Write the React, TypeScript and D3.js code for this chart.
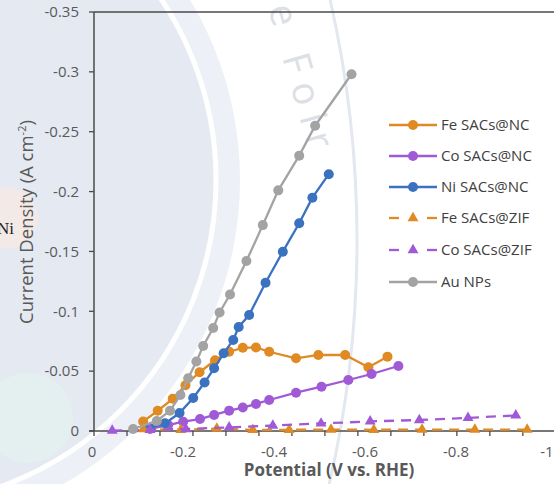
import React from 'react';
import * as d3 from 'd3';

const W = 554;
const H = 484;

// Potential (V vs. RHE) and current density (A cm^-2) for each catalyst
const feNcV = [-0.108, -0.14, -0.173, -0.201, -0.232, -0.266, -0.297, -0.327, -0.356, -0.385, -0.444, -0.493, -0.552, -0.603, -0.645];
const feNcJ = [-0.0079, -0.0169, -0.0269, -0.0382, -0.0491, -0.0591, -0.0662, -0.0695, -0.0698, -0.0662, -0.0607, -0.0635, -0.0635, -0.0532, -0.0621];

const coNcV = [-0.123, -0.163, -0.196, -0.233, -0.264, -0.297, -0.327, -0.356, -0.385, -0.444, -0.5, -0.559, -0.61, -0.669];
const coNcJ = [-0.0017, -0.005, -0.0078, -0.01, -0.0134, -0.017, -0.0196, -0.0226, -0.0259, -0.032, -0.037, -0.0426, -0.0476, -0.0543];

const niNcV = [-0.123, -0.156, -0.188, -0.218, -0.243, -0.264, -0.285, -0.306, -0.318, -0.341, -0.377, -0.415, -0.451, -0.48, -0.516];
const niNcJ = [-0.0025, -0.0064, -0.015, -0.0276, -0.0405, -0.0524, -0.0649, -0.076, -0.0869, -0.0969, -0.1239, -0.1498, -0.1735, -0.1949, -0.2145];

const feZifV = [-0.108, -0.191, -0.27, -0.349, -0.429, -0.521, -0.615, -0.721, -0.837, -0.952];
const feZifJ = [-0.0015, -0.001, -0.002, -0.001, -0.001, -0.0012, -0.001, -0.0012, -0.0012, -0.0012];

const coZifV = [-0.04, -0.123, -0.202, -0.297, -0.393, -0.499, -0.607, -0.715, -0.822, -0.927];
const coZifJ = [-0.0003, -0.001, -0.0017, -0.003, -0.0046, -0.0063, -0.008, -0.0092, -0.011, -0.013];

const auV = [-0.086, -0.138, -0.167, -0.19, -0.207, -0.225, -0.24, -0.262, -0.276, -0.299, -0.335, -0.371, -0.405, -0.451, -0.486, -0.566];
const auJ = [-0.0017, -0.0084, -0.017, -0.03, -0.044, -0.058, -0.071, -0.086, -0.099, -0.114, -0.142, -0.172, -0.201, -0.23, -0.255, -0.298];

const seriesNames = ['Fe SACs@NC', 'Co SACs@NC', 'Ni SACs@NC', 'Fe SACs@ZIF', 'Co SACs@ZIF', 'Au NPs'];
const seriesColors = ['#df8a22', '#a05ad6', '#3a72c0', '#df8a22', '#a05ad6', '#a3a3a3'];
const seriesDashed = [false, false, false, true, true, false];
const seriesV = [feNcV, coNcV, niNcV, feZifV, coZifV, auV];
const seriesJ = [feNcJ, coNcJ, niNcJ, feZifJ, coZifJ, auJ];

const xLabelTicks = [0, -0.2, -0.4, -0.6, -0.8, -1];
const xMarkTicks = d3.range(0, -1.0, -0.0725);
const yTicks = [0, -0.05, -0.1, -0.15, -0.2, -0.25, -0.3, -0.35];

const FONT = "'Open Sans', sans-serif";

export default function App() {
  const x = d3.scaleLinear().domain([0, -1]).range([94, 549]);
  const y = d3.scaleLinear().domain([0, -0.35]).range([431, 12]);
  const line = d3.line<[number, number]>().x(d => x(d[0])).y(d => y(d[1]));
  const tri = d3.symbol().type(d3.symbolTriangle).size(52)();

  const fmt = (v: number) => (v === 0 ? '0' : '-' + String(Math.abs(v)));

  const legendY = [125, 156, 187, 218, 250, 282];

  return (
    <svg width={W} height={H} style={{ position: 'fixed', left: 0, top: 0, background: '#fff' }}>
      {/* backdrop */}
      <rect x={0} y={0} width={W} height={H} fill="#ffffff" />
      <circle cx={-110} cy={180} r={350} fill="#edf0f6" />
      <circle cx={-110} cy={180} r={326} fill="#e5e9f2" stroke="#ffffff" strokeWidth={5} />
      <circle cx={-723} cy={240} r={1080} fill="none" stroke="#e3e8f0" strokeWidth={3} />
      <circle cx={8} cy={218} r={30} fill="#f6e9e2" opacity={0.8} />
      <circle cx={28} cy={418} r={45} fill="#e3f1ef" opacity={0.8} />
      <text x={-3} y={234} fontFamily="'Liberation Serif', serif" fontSize={17} fill="#222">Ni</text>
      <text
        transform="translate(268,8) rotate(74)"
        fontFamily={FONT}
        fontSize={38}
        letterSpacing={10}
        fill="#dcdfe5"
      >
        e Foir
      </text>

      {/* axes */}
      <line x1={94} x2={W} y1={12} y2={12} stroke="#4a4a4a" strokeWidth={1.5} />
      <line x1={94} x2={94} y1={12} y2={431} stroke="#4a4a4a" strokeWidth={1.5} />
      <line x1={89} x2={W} y1={431} y2={431} stroke="#4a4a4a" strokeWidth={1.5} />
      {yTicks.map(t => (
        <g key={'yt' + t}>
          <line x1={89} x2={94} y1={y(t)} y2={y(t)} stroke="#4a4a4a" strokeWidth={1.3} />
          <text x={79} y={y(t)} dy="0.35em" textAnchor="end" fontFamily={FONT} fontSize={15} fill="#595959">
            {fmt(t)}
          </text>
        </g>
      ))}
      {xMarkTicks.map(t => (
        <line key={'xm' + t} x1={x(t)} x2={x(t)} y1={431} y2={436} stroke="#4a4a4a" strokeWidth={1.3} />
      ))}
      {xLabelTicks.map(t => (
        <text key={'xl' + t} x={x(t) - 2} y={457} textAnchor="middle" fontFamily={FONT} fontSize={15} fill="#595959">
          {fmt(t)}
        </text>
      ))}
      <text x={329} y={476} textAnchor="middle" fontFamily={FONT} fontWeight="bold" fontSize={17} fill="#595959">
        Potential (V vs. RHE)
      </text>
      <text transform="translate(33,222) rotate(-90)" textAnchor="middle" fontFamily={FONT} fontSize={18.5} fill="#595959">
        Current Density (A cm<tspan dy={-7} fontSize={11}>-2</tspan><tspan dy={7}>)</tspan>
      </text>

      {/* series */}
      {seriesNames.map((name, i) => {
        const pts: [number, number][] = seriesV[i].map((v, k) => [v, seriesJ[i][k]]);
        const c = seriesColors[i];
        return (
          <g key={name}>
            <path
              d={line(pts) || ''}
              fill="none"
              stroke={c}
              strokeWidth={2.3}
              strokeDasharray={seriesDashed[i] ? '10,7' : undefined}
            />
            {pts.map((p, k) =>
              seriesDashed[i] ? (
                <path key={k} d={tri || ''} transform={`translate(${x(p[0])},${y(p[1])})`} fill={c} />
              ) : (
                <circle key={k} cx={x(p[0])} cy={y(p[1])} r={5} fill={c} />
              )
            )}
          </g>
        );
      })}

      {/* legend */}
      {seriesNames.map((name, i) => {
        const c = seriesColors[i];
        const ly = legendY[i];
        return (
          <g key={'lg' + name}>
            {seriesDashed[i] ? (
              <>
                <line x1={389} x2={399} y1={ly} y2={ly} stroke={c} strokeWidth={2.3} />
                <line x1={427} x2={437} y1={ly} y2={ly} stroke={c} strokeWidth={2.3} />
                <path d={tri || ''} transform={`translate(413,${ly})`} fill={c} />
              </>
            ) : (
              <>
                <line x1={389} x2={437} y1={ly} y2={ly} stroke={c} strokeWidth={2.3} />
                <circle cx={413} cy={ly} r={5} fill={c} />
              </>
            )}
            <text x={441} y={ly} dy="0.35em" fontFamily={FONT} fontSize={15} fill="#404040">
              {name}
            </text>
          </g>
        );
      })}
    </svg>
  );
}
